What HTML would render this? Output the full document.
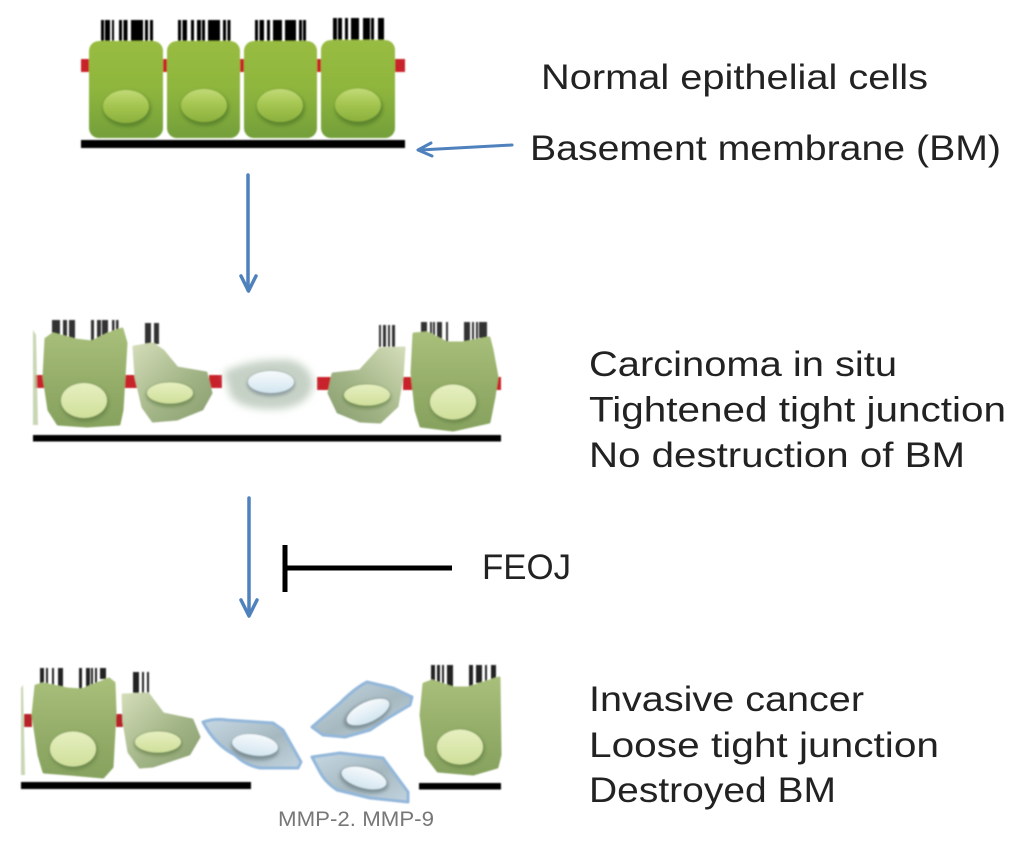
<!DOCTYPE html>
<html><head><meta charset="utf-8"><style>
html,body{margin:0;padding:0;background:#fff}
svg{display:block}
text{font-family:"Liberation Sans",sans-serif;fill:#222;font-size:35px}
</style></head><body>
<svg width="1024" height="841" viewBox="0 0 1024 841" xmlns="http://www.w3.org/2000/svg">
<defs>
<linearGradient id="g1" x1="0" y1="0" x2="0" y2="1"><stop offset="0" stop-color="#98bc42"/><stop offset=".5" stop-color="#8eb53c"/><stop offset="1" stop-color="#739f3a"/></linearGradient>
<linearGradient id="n1" x1="0" y1="0" x2="0" y2="1"><stop offset="0" stop-color="#c2da78"/><stop offset=".45" stop-color="#a5c651"/><stop offset="1" stop-color="#8bb03c"/></linearGradient>
<linearGradient id="g2" x1="0" y1="0" x2="0" y2="1"><stop offset="0" stop-color="#a8bf7a"/><stop offset=".55" stop-color="#94ad69"/><stop offset="1" stop-color="#86a25e"/></linearGradient>
<linearGradient id="g3" x1="0" y1="0" x2="1" y2="1"><stop offset="0" stop-color="#d3dcb8"/><stop offset=".6" stop-color="#a0b384"/><stop offset="1" stop-color="#8a9e70"/></linearGradient>
<linearGradient id="g4" x1="1" y1="0" x2="0" y2="1"><stop offset="0" stop-color="#d3dcb8"/><stop offset=".6" stop-color="#a0b384"/><stop offset="1" stop-color="#8a9e70"/></linearGradient>
<linearGradient id="n2" x1="0" y1="0" x2="0" y2="1"><stop offset="0" stop-color="#e6efc0"/><stop offset="1" stop-color="#cfdf9a"/></linearGradient>
<linearGradient id="b1" x1="0" y1="0" x2="1" y2="1"><stop offset="0" stop-color="#c6d8e4"/><stop offset=".55" stop-color="#a6b8bf"/><stop offset="1" stop-color="#c2d4e0"/></linearGradient>
<linearGradient id="n3" x1="0" y1="0" x2="0" y2="1"><stop offset="0" stop-color="#f6fafc"/><stop offset="1" stop-color="#d3e5f0"/></linearGradient>
<filter id="s" x="-10%" y="-10%" width="120%" height="120%"><feGaussianBlur stdDeviation="0.8"/></filter>
<filter id="m" x="-30%" y="-30%" width="160%" height="160%"><feGaussianBlur stdDeviation="1.5"/></filter>
<filter id="h" x="-30%" y="-30%" width="160%" height="160%"><feGaussianBlur stdDeviation="4"/></filter>
</defs>

<g filter="url(#s)">
<!-- Top row -->
<g fill="#c8202c">
<rect x="81" y="59" width="9" height="13"/><rect x="162" y="59" width="6" height="13"/><rect x="239" y="59" width="6" height="13"/><rect x="316" y="59" width="6" height="13"/><rect x="394" y="59" width="11" height="13"/>
</g>
<g fill="#000">
<path d="M101 20h3v21h-3zM105 20h5v21h-5zM112 20h2v21h-2zM119 20h3v21h-3zM123.500 20h4v21h-4zM131 20h12v21h-12zM145 20h3v21h-3zM150 20h3v21h-3z"/>
<path d="M178 20h3v21h-3zM182.500 20h4.500v21h-4.500zM191 20h3v21h-3zM197 20h4v21h-4zM202 20h3v21h-3zM208 20h12v21h-12zM223 20h3v21h-3zM227.500 20h3v21h-3z"/>
<path d="M255 20h3v21h-3zM259.500 20h4.500v21h-4.500zM267 20h3v21h-3zM273 20h9v21h-9zM285 20h11v21h-11zM299 20h3v21h-3zM303 20h3v21h-3z"/>
<path d="M333 18h4v22h-4zM338 18h4v22h-4zM345 18h3v22h-3zM351 18h8v22h-8zM363 18h7v22h-7zM371 18h3v22h-3zM378 18h6v22h-6z"/>
</g>
<rect x="89" y="41" width="74" height="97" rx="10" fill="url(#g1)"/>
<rect x="167" y="41" width="73" height="97" rx="10" fill="url(#g1)"/>
<rect x="244" y="41" width="73" height="97" rx="10" fill="url(#g1)"/>
<rect x="321" y="40" width="74" height="98" rx="10" fill="url(#g1)"/>
<g fill="#4e7526" opacity=".65" filter="url(#m)">
<ellipse cx="127" cy="109" rx="24" ry="18"/><ellipse cx="205" cy="108" rx="24" ry="18"/><ellipse cx="281" cy="108" rx="24" ry="18"/><ellipse cx="359" cy="108" rx="24" ry="18"/>
</g>
<g fill="url(#n1)">
<ellipse cx="126" cy="106.500" rx="23" ry="16.500"/><ellipse cx="204" cy="105.500" rx="23" ry="16.500"/><ellipse cx="280" cy="105.500" rx="23" ry="16.500"/><ellipse cx="358" cy="105" rx="23" ry="16.500"/>
</g>
<rect x="81" y="140" width="324" height="8" fill="#000"/>

<!-- Middle row -->
<g fill="#c8202c">
<rect x="35" y="375" width="10" height="13"/><rect x="124" y="375" width="13" height="13"/><rect x="209" y="375" width="13" height="13"/><rect x="317" y="377" width="14" height="13"/><rect x="403" y="377" width="12" height="13"/><rect x="495" y="377" width="6" height="13"/>
</g>
<g fill="#333">
<path d="M52 320h8v19h-8zM63 320h4v21h-4zM69 320h6v22h-6zM91 320h3v22h-3zM97 320h4v20h-4zM102 320h6v18h-6zM112 320h2.500v15h-2.500zM116 320h2.500v14h-2.500z"/>
<path d="M145 323h6v21h-6zM154 323h5v21h-5z"/>
<path d="M379 325h2v22h-2zM383 325h3v22h-3zM388 325h2v22h-2zM392 325h3v22h-3z"/>
<path d="M421 322h6v14h-6zM430 322h2v16h-2zM433 322h2v16h-2zM437 322h5v21h-5zM446 322h2v21h-2zM464 322h6v20h-6zM472 322h2v18h-2zM476 322h2v18h-2zM479 322h8v16h-8z"/>
</g>
<path d="M33 330l3 5 2 90h-5z" fill="#bcccA0" opacity=".8"/>
<g stroke-width="3" stroke-linejoin="round">
<path d="M46 339L53 334L75 340L92 342L108 334L122 329L126 343L124 377L122 410L119 424L87 426L58 424L49 410L44 377Z" fill="url(#g2)" stroke="url(#g2)"/>
<path d="M134 347L153 344L163 351L177 368L206 373L211 393L202 409L177 419L153 421L143 407L136 377Z" fill="url(#g3)" stroke="url(#g3)"/>
<path d="M333 374L360 371L380 349L404 348L402 377L397 406L380 422L360 421L338 412L329 393Z" fill="url(#g4)" stroke="url(#g4)"/>
<path d="M414 334L427 333L447 343L463 343L489 338L492 350L497 377L494 397L489 422L453 430L421 426L416 410L412 373Z" fill="url(#g2)" stroke="url(#g2)"/>
</g>
<ellipse cx="85" cy="403" rx="24" ry="19" fill="#5f7a43" opacity=".6" filter="url(#m)"/>
<ellipse cx="84" cy="400.500" rx="23" ry="17.500" fill="url(#n2)"/>
<ellipse cx="170" cy="395" rx="24" ry="12" fill="#5f7a43" opacity=".6" filter="url(#m)"/>
<ellipse cx="170" cy="393" rx="23" ry="10.500" fill="url(#n2)"/>
<path d="M224 372Q250 358 290 360Q312 366 313 385Q310 405 280 409Q240 411 230 395Z" fill="#c6d1c6" filter="url(#h)"/>
<ellipse cx="271" cy="384" rx="24" ry="12.500" fill="#77878f" opacity=".7" filter="url(#m)"/>
<ellipse cx="271" cy="382" rx="23" ry="11" fill="url(#n3)"/>
<ellipse cx="367" cy="397" rx="24" ry="12" fill="#5f7a43" opacity=".6" filter="url(#m)"/>
<ellipse cx="367" cy="395" rx="23" ry="10.500" fill="url(#n2)"/>
<ellipse cx="454" cy="404" rx="24" ry="19" fill="#5f7a43" opacity=".6" filter="url(#m)"/>
<ellipse cx="453" cy="402" rx="23" ry="17.500" fill="url(#n2)"/>
<rect x="33" y="435" width="468" height="6.500" fill="#000"/>

<!-- Bottom row -->
<g fill="#b8202c">
<rect x="24" y="714" width="8" height="13"/><rect x="116" y="714" width="7" height="13"/>
</g>
<g fill="#222">
<path d="M40 668h4v20h-4zM46 668h2v20h-2zM52 668h2v21h-2zM58 668h5v21h-5zM79 668h3v21h-3zM86 668h4v20h-4zM91 668h2v18h-2zM95 668h2v16h-2zM100 668h6v11h-6z"/>
<path d="M133 672h6v21h-6zM142 672h2v21h-2zM147 672h2v21h-2z"/>
<path d="M431 665h4v18h-4zM437 665h3v20h-3zM442 665h2v21h-2zM447 665h6v22h-6zM469 665h4v22h-4zM476 665h6v18h-6zM485 665h2v16h-2zM491 665h5v14h-5z"/>
</g>
<path d="M21 688l2-3 2 90h-4z" fill="#bcccA0" opacity=".8"/>
<g stroke-width="3" stroke-linejoin="round">
<path d="M36 686L43 684L67 689L82 690L109 679L114 683L115 712L112 767L103 777L70 774L44 772L39 755L33 715Z" fill="url(#g2)" stroke="url(#g2)"/>
<path d="M123 695L148 694L163 714L192 720L199 737L189 754L153 766L140 767L129 752L124 722Z" fill="url(#g3)" stroke="url(#g3)"/>
<path d="M424 684L432 681L453 688L468 688L499 678L500 755L497 767L473 774L438 771L426 755L421 715Z" fill="url(#g2)" stroke="url(#g2)"/>
</g>
<ellipse cx="74" cy="751" rx="24" ry="19" fill="#5f7a43" opacity=".6" filter="url(#m)"/>
<ellipse cx="73" cy="749" rx="23" ry="17.500" fill="url(#n2)"/>
<ellipse cx="158" cy="744" rx="24" ry="12" fill="#5f7a43" opacity=".6" filter="url(#m)"/>
<ellipse cx="158" cy="742" rx="23" ry="10.500" fill="url(#n2)"/>
<ellipse cx="461" cy="749" rx="24" ry="19" fill="#5f7a43" opacity=".6" filter="url(#m)"/>
<ellipse cx="460" cy="747" rx="23" ry="17.500" fill="url(#n2)"/>

<g fill="url(#b1)" stroke="#93b7da" stroke-width="3" stroke-linejoin="round">
<path d="M203 722Q215 718 227 720L273 723L283 730L301 762L298 768L260 768Q245 765 235 755Q215 745 203 722Z"/>
<path d="M312 727L340 703Q355 688 367 682L393 688L412 697L410 705L388 718L370 730L345 737L323 735Z"/>
<path d="M312 757L340 753L383 758L408 792L408 802L370 798L337 790Q325 782 320 772Z"/>
</g>
<ellipse cx="255" cy="748" rx="24" ry="12" fill="#67797f" opacity=".65" transform="rotate(8 255 748)" filter="url(#m)"/>
<ellipse cx="255" cy="745" rx="23" ry="10.500" fill="url(#n3)" transform="rotate(8 255 745)"/>
<ellipse cx="367" cy="714" rx="25" ry="12" fill="#67797f" opacity=".65" transform="rotate(-25 367 714)" filter="url(#m)"/>
<ellipse cx="368" cy="712" rx="23" ry="10" fill="url(#n3)" transform="rotate(-25 368 712)"/>
<ellipse cx="364" cy="780" rx="25" ry="12" fill="#67797f" opacity=".65" transform="rotate(15 364 780)" filter="url(#m)"/>
<ellipse cx="364" cy="778" rx="23" ry="10" fill="url(#n3)" transform="rotate(15 364 778)"/>
<rect x="21" y="782" width="230" height="7" fill="#000"/>
<rect x="419" y="783" width="82" height="6.500" fill="#000"/>
</g>

<!-- Connectors -->
<g fill="none" stroke="#4f81bd" stroke-width="3.500" stroke-linecap="round" stroke-linejoin="round">
<path d="M248 175V290"/>
<path d="M241 276L248.500 291L256 276"/>
<path d="M249 498V614"/>
<path d="M241 600L249 616L257 600"/>
<path d="M512 145L420 150" stroke-width="3"/>
<path d="M431 143L418 150L432 156" stroke-width="3"/>
</g>
<path d="M285 568H452M285 545V592" fill="none" stroke="#000" stroke-width="5"/>

<!-- Labels -->
<text x="541" y="89" textLength="387" lengthAdjust="spacingAndGlyphs">Normal epithelial cells</text>
<text x="530" y="160" textLength="471" lengthAdjust="spacingAndGlyphs">Basement membrane (BM)</text>
<text x="589" y="376" textLength="308" lengthAdjust="spacingAndGlyphs">Carcinoma in situ</text>
<text x="589" y="421.500" textLength="417" lengthAdjust="spacingAndGlyphs">Tightened tight junction</text>
<text x="589" y="467" textLength="376" lengthAdjust="spacingAndGlyphs">No destruction of BM</text>
<text x="482" y="579" textLength="89" lengthAdjust="spacingAndGlyphs">FEOJ</text>
<text x="589" y="711" textLength="275" lengthAdjust="spacingAndGlyphs">Invasive cancer</text>
<text x="589" y="757" textLength="350" lengthAdjust="spacingAndGlyphs">Loose tight junction</text>
<text x="589" y="802" textLength="247" lengthAdjust="spacingAndGlyphs">Destroyed BM</text>
<text x="278" y="826" textLength="156" lengthAdjust="spacingAndGlyphs" style="font-size:21px;fill:#777">MMP-2. MMP-9</text>
</svg>
</body></html>
